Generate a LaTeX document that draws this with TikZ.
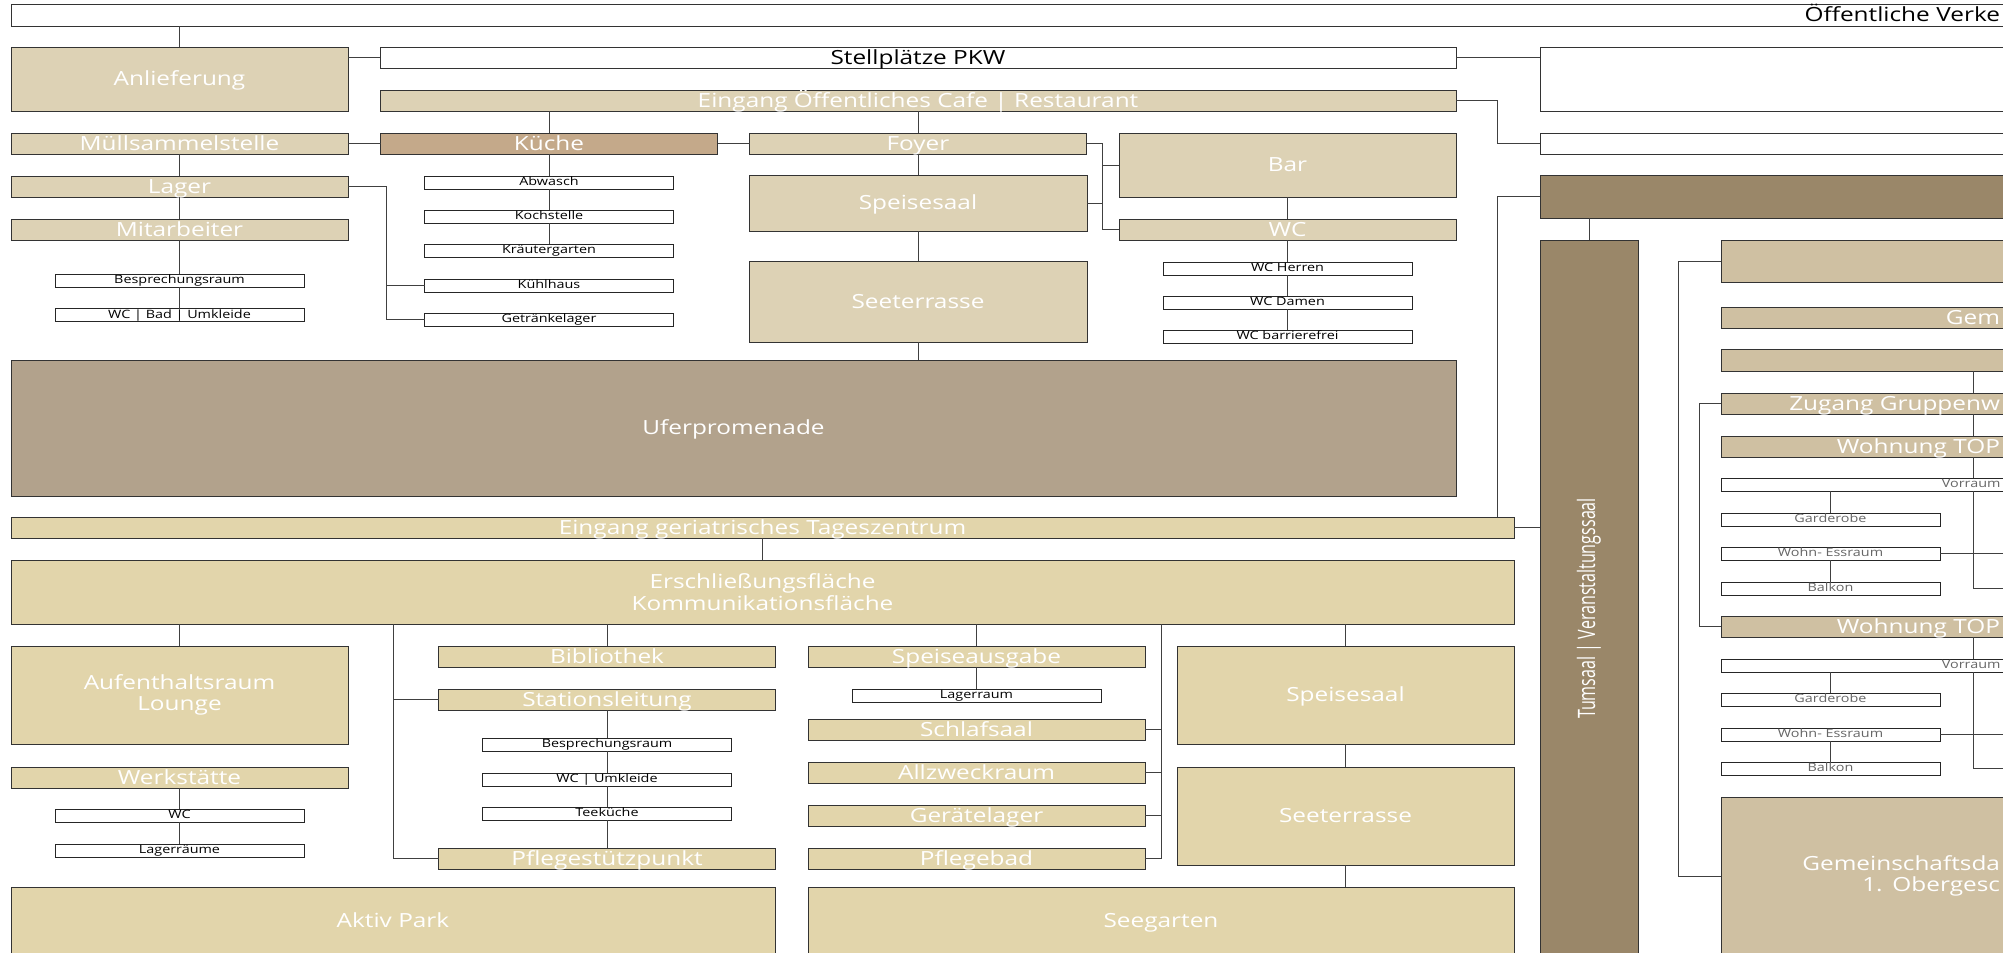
\documentclass[tikz,border=0pt]{standalone}
\usepackage{fontspec}
\setmainfont{Open Sans}[FakeStretch=1.25]
\newfontfamily\condfont{Open Sans}[FakeStretch=0.67]
\definecolor{tanup}{HTML}{DDD2B5}
\definecolor{tanlow}{HTML}{E2D5AB}
\definecolor{tanright}{HTML}{CFC0A2}
\definecolor{kitchen}{HTML}{C4A98A}
\definecolor{promenade}{HTML}{B2A28C}
\definecolor{hall}{HTML}{9A8769}
\tikzstyle{block}=[draw=black!80,line width=0.8pt,inner sep=0pt,outer sep=0pt,text=white,font=\fontsize{19.5}{21.5}\selectfont]
\tikzstyle{room}=[block,text height=15pt,text depth=1.5pt]
\tikzstyle{slim}=[minimum width=337pt,minimum height=21pt]
\tikzstyle{sub}=[draw=black!85,line width=0.8pt,fill=white,inner sep=0pt,outer sep=0pt,minimum width=249pt,minimum height=13pt,text height=8.5pt,text depth=2.5pt,font=\fontsize{11.5}{13}\selectfont]
\tikzstyle{link}=[draw=black!75,line width=0.8pt]

\begin{document}
\begin{tikzpicture}[x=1pt,y=-1pt]
  \useasboundingbox (0,0) rectangle (2003,953);
  \clip (0,0) rectangle (2003,953);
  % cafe and kitchen
  \node[room,fill=white,text=black,minimum width=1999pt,minimum height=22pt,text width=1979pt,align=right] (verkehr) at (1010.5,15) {Öffentliche Verke};
  \node[room,fill=tanup,minimum width=337pt,minimum height=64pt] (anlief) at (179.5,79) {Anlieferung};
  \node[room,fill=white,text=black,minimum width=1076pt,minimum height=21pt] (stellpl) at (918,57.5) {Stellplätze PKW};
  \node[room,fill=tanup,minimum width=1076pt,minimum height=21pt] (eingcafe) at (918,100.5) {Eingang Öffentliches Cafe | Restaurant};
  \node[room,slim,fill=tanup] (muell) at (179.5,143.5) {Müllsammelstelle};
  \node[room,slim,fill=kitchen] (kueche) at (549,143.5) {Küche};
  \node[room,slim,fill=tanup] (foyer) at (918,143.5) {Foyer};
  \node[room,fill=tanup,minimum width=337pt,minimum height=64pt] (bar) at (1287.5,165) {Bar};
  \node[room,slim,fill=tanup] (lager) at (179.5,186.5) {Lager};
  \node[room,fill=tanup,minimum width=338pt,minimum height=56pt] (spsaal) at (918,203) {Speisesaal};
  \node[room,slim,fill=tanup] (mitarb) at (179.5,229.5) {Mitarbeiter};
  \node[room,slim,fill=tanup] (wc) at (1287.5,229.5) {WC};
  \node[sub] (bespr) at (179.5,280.5) {Besprechungsraum};
  \node[sub] (wcbad) at (179.5,315) {WC | Bad | Umkleide};
  \node[sub] (abwasch) at (549,182.5) {Abwasch};
  \node[sub] (kochst) at (549,216.5) {Kochstelle};
  \node[sub] (kraeut) at (549,250.5) {Kräutergarten};
  \node[sub] (kuehl) at (549,285.5) {Kühlhaus};
  \node[sub] (getraenk) at (549,319.5) {Getränkelager};
  \node[room,fill=tanup,minimum width=338pt,minimum height=81pt] (seeterr) at (918,301.5) {Seeterrasse};
  \node[sub] (wcherr) at (1287.5,268.5) {WC Herren};
  \node[sub] (wcdam) at (1287.5,302.5) {WC Damen};
  \node[sub] (wcbf) at (1287.5,336.5) {WC barrierefrei};
  \node[room,fill=promenade,minimum width=1445pt,minimum height=136pt] (ufer) at (733.5,428) {Uferpromenade};
  % right side
  \node[room,fill=white,minimum width=470pt,minimum height=64pt] (rbox1) at (1775,79) {};
  \node[room,fill=white,minimum width=470pt,minimum height=21pt] (rbox2) at (1775,143.5) {};
  \node[room,fill=hall,minimum width=470pt,minimum height=43pt] (rdark) at (1775,196.5) {};
  \node[block,fill=hall,minimum width=98pt,minimum height=715pt] (turnsaal) at (1589,597.5) {\rotatebox{90}{\condfont\fontsize{24}{26}\selectfont Tumsaal | Veranstaltungssaal\hspace*{22pt}}};
  \node[room,fill=tanright,minimum width=289pt,minimum height=42pt] (rtan1) at (1865.5,261) {};
  \node[room,fill=tanright,minimum width=289pt,minimum height=21pt,text width=269pt,align=right] (gem) at (1865.5,317.5) {Gem};
  \node[room,fill=tanright,minimum width=289pt,minimum height=22pt] (rtan2) at (1865.5,360) {};
  \node[room,fill=tanright,minimum width=289pt,minimum height=21pt,text width=269pt,align=right] (zugang) at (1865.5,403.5) {Zugang Gruppenw};
  \node[room,fill=tanright,minimum width=289pt,minimum height=21pt,text width=269pt,align=right] (top1) at (1865.5,446.5) {Wohnung TOP};
  \node[sub,text=black!60,minimum width=289pt,text width=270pt,align=right] (vorr1) at (1865.5,484.5) {Vorraum};
  \node[sub,text=black!60,minimum width=219pt] (gard1) at (1830.5,519.5) {Garderobe};
  \node[sub,text=black!60,minimum width=219pt] (wohn1) at (1830.5,553.5) {Wohn- Essraum};
  \node[sub,text=black!60,minimum width=219pt] (balk1) at (1830.5,588.5) {Balkon};
  \node[room,fill=tanright,minimum width=289pt,minimum height=21pt,text width=269pt,align=right] (top2) at (1865.5,626.5) {Wohnung TOP};
  \node[sub,text=black!60,minimum width=289pt,text width=270pt,align=right] (vorr2) at (1865.5,665.5) {Vorraum};
  \node[sub,text=black!60,minimum width=219pt] (gard2) at (1830.5,699.5) {Garderobe};
  \node[sub,text=black!60,minimum width=219pt] (wohn2) at (1830.5,734.5) {Wohn- Essraum};
  \node[sub,text=black!60,minimum width=219pt] (balk2) at (1830.5,768.5) {Balkon};
  \node[block,fill=tanright,minimum width=289pt,minimum height=158pt,text width=269pt,align=right] (gemdach) at (1865.5,876) {Gemeinschaftsda\\1. Obergesc};
  % geriatric day centre
  \node[room,fill=tanlow,minimum width=1503pt,minimum height=21pt] (einggeri) at (762.5,527.5) {Eingang geriatrisches Tageszentrum};
  \node[block,fill=tanlow,minimum width=1503pt,minimum height=64pt,align=center] (erschl) at (762.5,592) {Erschließungsfläche\\Kommunikationsfläche};
  \node[block,fill=tanlow,minimum width=337pt,minimum height=98pt,align=center] (aufent) at (179.5,695) {Aufenthaltsraum\\Lounge};
  \node[room,slim,fill=tanlow] (werk) at (179.5,777.5) {Werkstätte};
  \node[sub] (wcw) at (179.5,815.5) {WC};
  \node[sub] (lagerr) at (179.5,850.5) {Lagerräume};
  \node[room,fill=tanlow,minimum width=764pt,minimum height=68pt] (aktiv) at (393,921) {Aktiv Park};
  \node[room,slim,fill=tanlow] (biblio) at (607,656.5) {Bibliothek};
  \node[room,slim,fill=tanlow] (station) at (607,699.5) {Stationsleitung};
  \node[sub] (bespr2) at (607,744.5) {Besprechungsraum};
  \node[sub] (wcumk) at (607,779.5) {WC | Umkleide};
  \node[sub] (teek) at (607,813.5) {Teeküche};
  \node[room,slim,fill=tanlow] (pflege) at (607,858.5) {Pflegestützpunkt};
  \node[room,slim,fill=tanlow] (speiseaus) at (976.5,656.5) {Speiseausgabe};
  \node[sub] (lagerraum) at (976.5,695.5) {Lagerraum};
  \node[room,slim,fill=tanlow] (schlaf) at (976.5,729.5) {Schlafsaal};
  \node[room,slim,fill=tanlow] (allzw) at (976.5,772.5) {Allzweckraum};
  \node[room,slim,fill=tanlow] (geraet) at (976.5,815.5) {Gerätelager};
  \node[room,slim,fill=tanlow] (pflbad) at (976.5,858.5) {Pflegebad};
  \node[room,fill=tanlow,minimum width=337pt,minimum height=98pt] (spsaal2) at (1345.5,695) {Speisesaal};
  \node[room,fill=tanlow,minimum width=337pt,minimum height=98pt] (seeterr2) at (1345.5,816) {Seeterrasse};
  \node[room,fill=tanlow,minimum width=706pt,minimum height=68pt] (seegarten) at (1161,921) {Seegarten};
  % bus lines
  \coordinate (lagerbus) at (386,0);
  \coordinate (cafebus) at (1102,0);
  \coordinate (rbus) at (1497,0);
  \coordinate (rlink) at (1678,0);
  \coordinate (zlink) at (1699,0);
  \coordinate (wbus) at (1973,0);
  \coordinate (wedge) at (2010,0);
  \coordinate (stbus) at (393,0);
  \coordinate (sbus) at (1161,0);
  % links cafe and kitchen
  \draw[link] (anlief.north) -- (anlief.north |- verkehr.south);
  \draw[link] (stellpl.west) -- (stellpl.west -| anlief.east);
  \draw[link] (stellpl.east) -- (stellpl.east -| rbox1.west);
  \draw[link] (kueche.north) -- (kueche.north |- eingcafe.south);
  \draw[link] (foyer.north) -- (foyer.north |- eingcafe.south);
  \draw[link] (muell) -- (kueche);
  \draw[link] (kueche) -- (foyer);
  \draw[link] (muell) -- (lager);
  \draw[link] (lager) -- (mitarb);
  \draw[link] (mitarb) -- (bespr);
  \draw[link] (bespr) -- (wcbad);
  \draw[link] (kueche) -- (abwasch);
  \draw[link] (abwasch) -- (kochst);
  \draw[link] (kochst) -- (kraeut);
  \draw[link] (lager.east) -- (lager.east -| lagerbus) |- (getraenk.west);
  \draw[link] (kuehl.west) -- (kuehl.west -| lagerbus);
  \draw[link] (foyer) -- (spsaal);
  \draw[link] (spsaal) -- (seeterr);
  \draw[link] (seeterr.south) -- (seeterr.south |- ufer.north);
  \draw[link] (foyer.east) -- (foyer.east -| cafebus) |- (wc.west);
  \draw[link] (bar.west) -- (bar.west -| cafebus);
  \draw[link] (spsaal.east) -- (spsaal.east -| cafebus);
  \draw[link] (bar) -- (wc);
  \draw[link] (wc) -- (wcherr);
  \draw[link] (wcherr) -- (wcdam);
  \draw[link] (wcdam) -- (wcbf);
  % links right side
  \draw[link] (eingcafe.east) -- (eingcafe.east -| rbus) |- (rbox2.west);
  \draw[link] (rdark.west) -- (rdark.west -| rbus) -- (rbus |- einggeri.north);
  \draw[link] (turnsaal.north) -- (turnsaal.north |- rdark.south);
  \draw[link] (einggeri.east) -- (einggeri.east -| turnsaal.west);
  \draw[link] (rtan1.west) -- (rtan1.west -| rlink) |- (gemdach.west);
  \draw[link] (zugang.west) -- (zugang.west -| zlink) |- (top2.west);
  \draw[link] (rtan2.south -| wbus) -- (zugang.north -| wbus);
  \draw[link] (zugang.south -| wbus) -- (top1.north -| wbus);
  \draw[link] (top1.south -| wbus) -- (vorr1.north -| wbus);
  \draw[link] (vorr1.south -| wbus) |- (balk1.east -| wedge);
  \draw[link] (wohn1.east) -- (wohn1.east -| wedge);
  \draw[link] (gard1.north) -- (gard1.north |- vorr1.south);
  \draw[link] (wohn1) -- (balk1);
  \draw[link] (top2.south -| wbus) -- (vorr2.north -| wbus);
  \draw[link] (vorr2.south -| wbus) |- (balk2.east -| wedge);
  \draw[link] (wohn2.east) -- (wohn2.east -| wedge);
  \draw[link] (gard2.north) -- (gard2.north |- vorr2.south);
  \draw[link] (wohn2) -- (balk2);
  % links geriatric day centre
  \draw[link] (einggeri) -- (erschl);
  \draw[link] (aufent.north) -- (aufent.north |- erschl.south);
  \draw[link] (werk) -- (wcw);
  \draw[link] (wcw) -- (lagerr);
  \draw[link] (erschl.south -| stbus) |- (pflege.west);
  \draw[link] (station.west) -- (station.west -| stbus);
  \draw[link] (biblio.north) -- (biblio.north |- erschl.south);
  \draw[link] (station) -- (bespr2);
  \draw[link] (bespr2) -- (wcumk);
  \draw[link] (wcumk) -- (teek);
  \draw[link] (teek) -- (pflege);
  \draw[link] (speiseaus.north) -- (speiseaus.north |- erschl.south);
  \draw[link] (speiseaus) -- (lagerraum);
  \draw[link] (erschl.south -| sbus) |- (pflbad.east);
  \draw[link] (schlaf.east) -- (schlaf.east -| sbus);
  \draw[link] (allzw.east) -- (allzw.east -| sbus);
  \draw[link] (geraet.east) -- (geraet.east -| sbus);
  \draw[link] (spsaal2.north) -- (spsaal2.north |- erschl.south);
  \draw[link] (spsaal2) -- (seeterr2);
  \draw[link] (seeterr2.south) -- (seeterr2.south |- seegarten.north);
\end{tikzpicture}
\end{document}
